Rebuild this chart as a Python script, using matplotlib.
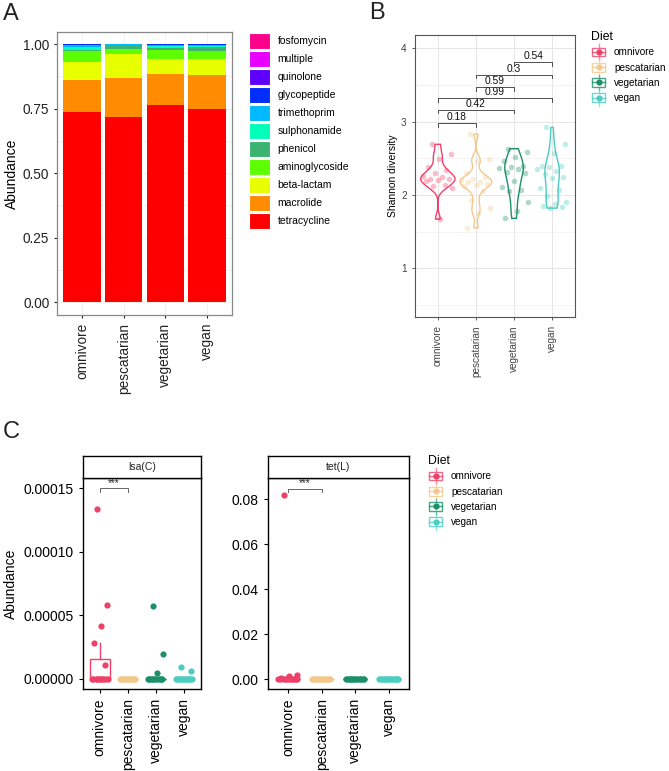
import numpy as np
import matplotlib
matplotlib.use('Agg')
import matplotlib.pyplot as plt
from matplotlib.patches import Patch, Rectangle
from matplotlib.lines import Line2D
from matplotlib.legend_handler import HandlerBase

plt.rcParams['font.family'] = ['Liberation Sans', 'DejaVu Sans']

W, H = 669, 771

diets = ['omnivore', 'pescatarian', 'vegetarian', 'vegan']
diet_colors = ['#EE4169', '#F3C98B', '#1A8F68', '#4BCDC2']

# --- panel A: relative abundance of antibiotic classes (bottom -> top)
classes = ['tetracycline', 'macrolide', 'beta-lactam', 'aminoglycoside', 'phenicol',
           'sulphonamide', 'trimethoprim', 'glycopeptide', 'quinolone', 'multiple', 'fosfomycin']
class_colors = ['#FF0000', '#FF8B00', '#E8FF00', '#5DFF00', '#3CB371',
                '#00FFB9', '#00B9FF', '#002EFF', '#5D00FF', '#E800FF', '#FF008B']
abund_omnivore = [0.736, 0.124, 0.072, 0.043, 0.002, 0.012, 0.007, 0.003, 0.001, 0.0, 0.0]
abund_pescatarian = [0.718, 0.151, 0.091, 0.023, 0.012, 0.003, 0.001, 0.001, 0.0, 0.0, 0.0]
abund_vegetarian = [0.764, 0.120, 0.060, 0.033, 0.008, 0.008, 0.004, 0.002, 0.001, 0.0, 0.0]
abund_vegan = [0.747, 0.135, 0.060, 0.031, 0.014, 0.004, 0.005, 0.003, 0.001, 0.0, 0.0]

# --- panel B: Shannon diversity per sample
shannon_omnivore = [2.69, 2.56, 2.49, 2.38, 2.34, 2.30, 2.26, 2.25, 2.22, 2.22, 2.20, 2.19, 2.14, 2.12, 2.09, 1.67]
shannon_pescatarian = [2.83, 2.49, 2.46, 2.30, 2.24, 2.22, 2.20, 2.18, 2.17, 2.15, 2.14, 2.12, 2.06,
                       1.93, 1.82, 1.75, 1.55]
shannon_vegetarian = [2.63, 2.58, 2.52, 2.46, 2.40, 2.38, 2.37, 2.35, 2.31, 2.30, 2.19, 2.11,
                      2.07, 2.06, 1.90, 1.78, 1.68]
shannon_vegan = [2.92, 2.69, 2.57, 2.40, 2.39, 2.38, 2.36, 2.33, 2.28, 2.25, 2.23, 2.09, 2.07,
                 1.99, 1.90, 1.87, 1.85, 1.83, 1.82]
b_pairs = [(0, 1), (0, 2), (0, 3), (1, 2), (1, 3), (2, 3)]
b_pvals = ['0.18', '0.42', '0.99', '0.59', '0.3', '0.54']
b_heights = [2.98, 3.16, 3.32, 3.47, 3.64, 3.81]

# --- panel C: gene abundance per sample
lsa_omnivore = [1.34e-4, 5.8e-5, 4.17e-5, 2.83e-5, 1.1e-5, 0, 0, 0, 0, 0, 0, 0, 0, 0, 0, 0]
lsa_pescatarian = [0, 0, 0, 0, 0, 0, 0, 0, 0, 0, 0, 0, 0]
lsa_vegetarian = [5.75e-5, 1.94e-5, 4.5e-6, 0, 0, 0, 0, 0, 0, 0, 0, 0, 0, 0]
lsa_vegan = [9.7e-6, 6.6e-6, 0, 0, 0, 0, 0, 0, 0, 0, 0, 0, 0, 0, 0]
tet_omnivore = [0.082, 0.0018, 0.0012, 0.0006, 0, 0, 0, 0, 0, 0, 0, 0, 0, 0, 0, 0]
tet_pescatarian = [0, 0, 0, 0, 0, 0, 0, 0, 0, 0, 0, 0, 0]
tet_vegetarian = [0, 0, 0, 0, 0, 0, 0, 0, 0, 0, 0, 0, 0, 0]
tet_vegan = [0, 0, 0, 0, 0, 0, 0, 0, 0, 0, 0, 0, 0, 0, 0]


def box(l, t, r, b):
    return [l / W, 1 - b / H, (r - l) / W, (b - t) / H]


def jitter(n, width):
    # deterministic spread instead of random jitter
    return ((np.arange(n) * 0.6180339887 + 0.31) % 1.0 - 0.5) * 2 * width


class BoxKey(HandlerBase):
    def create_artists(self, legend, orig, xd, yd, w, h, fs, trans):
        c = orig.get_color()
        x0, y0 = -xd, -yd
        cx, cy = x0 + w / 2, y0 + h / 2
        arts = [
            Line2D([cx, cx], [y0 - 0.15 * h, y0 + 1.15 * h], color=c, lw=1, alpha=0.6),
            Rectangle((x0 + 0.05 * w, y0 + 0.15 * h), 0.9 * w, 0.7 * h, fc='white', ec=c, lw=1, alpha=0.8),
            Line2D([x0 + 0.05 * w, x0 + 0.95 * w], [cy, cy], color=c, lw=1, alpha=0.8),
            Line2D([cx], [cy], marker='o', ms=3.5, color=c, lw=0),
        ]
        for a in arts:
            a.set_transform(trans)
        return arts


def diet_legend(fig, x, y):
    hs = [Line2D([], [], color=c) for c in diet_colors]
    lg = fig.legend(hs, diets, title='Diet', loc='upper left', bbox_to_anchor=(x / W, 1 - y / H),
                    frameon=False, fontsize=7.2, title_fontsize=8.8, handlelength=1.5, handleheight=1.5,
                    labelspacing=0.3, handletextpad=0.8, borderpad=0, borderaxespad=0,
                    alignment='left', handler_map={Line2D: BoxKey()})
    return lg


fig = plt.figure(figsize=(W / 100, H / 100), dpi=100)

# ---------------- A
axA = fig.add_axes(box(57, 32, 232, 315))
stack = np.array([abund_omnivore, abund_pescatarian, abund_vegetarian, abund_vegan]).T
x = np.arange(len(diets))
bottom = np.zeros(len(diets))
for name, col, vals in zip(classes, class_colors, stack):
    axA.bar(x, vals, 0.9, bottom=bottom, color=col, zorder=2)
    bottom += vals
axA.set_xlim(-0.6, 3.6)
axA.set_ylim(-0.05, 1.047)
axA.set_yticks([0, 0.25, 0.5, 0.75, 1.0])
axA.set_yticklabels(['%.2f' % v for v in [0, 0.25, 0.5, 0.75, 1.0]])
axA.set_yticks([0.125, 0.375, 0.625, 0.875], minor=True)
axA.grid(which='both', color='#EFEFEF', lw=0.6)
axA.set_axisbelow(True)
axA.set_xticks(x)
axA.set_xticklabels(diets, rotation=90)
axA.tick_params(labelsize=9.8, colors='#222222', length=2, which='major')
axA.tick_params(which='minor', length=0)
axA.set_ylabel('Abundance', fontsize=10, labelpad=3)
for s in axA.spines.values():
    s.set_color('#888888')
    s.set_linewidth(0.9)

hA = [Patch(fc=c, ec='white', lw=0.8) for c in class_colors[::-1]]
fig.legend(hA, classes[::-1], loc='upper left', bbox_to_anchor=(249 / W, 1 - 33 / H),
           frameon=False, fontsize=7.5, handlelength=2.0, handleheight=2.0, labelspacing=0.18,
           handletextpad=0.75, borderpad=0, borderaxespad=0)

# ---------------- B
axB = fig.add_axes(box(415, 35, 575, 317))
groups = [shannon_omnivore, shannon_pescatarian, shannon_vegetarian, shannon_vegan]
curves = []
for v in groups:
    v = np.asarray(v)
    n = len(v)
    iqr = np.subtract(*np.percentile(v, [75, 25]))
    bw = 0.9 * min(v.std(ddof=1), iqr / 1.34) * n ** -0.2
    ys = np.linspace(v.min(), v.max(), 256)
    dens = np.exp(-0.5 * ((ys[:, None] - v[None, :]) / bw) ** 2).sum(1) / (n * bw * np.sqrt(2 * np.pi))
    curves.append((ys, dens))
dmax = max(d.max() for _, d in curves)
for i, ((ys, dens), v, c) in enumerate(zip(curves, groups, diet_colors)):
    hw = 0.45 * dens / dmax
    xs = np.concatenate([i - hw, (i + hw)[::-1]])
    yy = np.concatenate([ys, ys[::-1]])
    axB.fill(xs, yy, fc='none', ec=c, lw=1.0, zorder=3)
    axB.scatter(i + jitter(len(v), 0.4), v, s=16, color=c, alpha=0.35, lw=0, zorder=4)
tip = 0.05
for (a, b), p, h in zip(b_pairs, b_pvals, b_heights):
    axB.plot([a, a, b, b], [h - tip, h, h, h - tip], color='#333333', lw=0.6, zorder=5)
    axB.text((a + b) / 2, h + 0.015, p, ha='center', va='bottom', fontsize=7.4, color='#111111')
axB.set_xlim(-0.6, 3.6)
axB.set_ylim(0.336, 4.18)
axB.set_yticks([1, 2, 3, 4])
axB.set_yticks([0.5, 1.5, 2.5, 3.5], minor=True)
axB.set_xticks(x)
axB.set_xticklabels(diets, rotation=90)
axB.grid(which='major', color='#E6E6E6', lw=0.7)
axB.grid(which='minor', axis='y', color='#F0F0F0', lw=0.5)
axB.set_axisbelow(True)
axB.tick_params(labelsize=7.2, colors='#444444', length=2.5, width=0.6)
axB.tick_params(which='minor', length=0)
axB.set_ylabel('Shannon diversity', fontsize=7.5, labelpad=2)
for s in axB.spines.values():
    s.set_color('#555555')
    s.set_linewidth(0.8)
diet_legend(fig, 591, 31)

# ---------------- C
facets = [
    ('lsa(C)', [lsa_omnivore, lsa_pescatarian, lsa_vegetarian, lsa_vegan], (83, 201),
     (-7.9e-6, 1.58e-4), [0, 5e-5, 1e-4, 1.5e-4], '%.5f', 1.50e-4, 2.7e-6),
    ('tet(L)', [tet_omnivore, tet_pescatarian, tet_vegetarian, tet_vegan], (268, 409),
     (-0.0044, 0.0895), [0, 0.02, 0.04, 0.06, 0.08], '%.2f', 0.0848, 0.0015),
]
for k, (title, data, (l, r), ylim, yt, fmt, bh, btip) in enumerate(facets):
    ax = fig.add_axes(box(l, 478, r, 689))
    bp = ax.boxplot(data, positions=x, widths=0.72, showfliers=False, showcaps=False,
                    patch_artist=True, whis=1.5, manage_ticks=False)
    for i, c in enumerate(diet_colors):
        bp['boxes'][i].set(facecolor='white', edgecolor=c, lw=1.0, zorder=2)
        bp['medians'][i].set(color=c, lw=1.0, zorder=2)
        for wk in bp['whiskers'][2 * i:2 * i + 2]:
            wk.set(color=c, lw=1.0, zorder=2)
    for i, (v, c) in enumerate(zip(data, diet_colors)):
        ax.scatter(i + jitter(len(v), 0.3), v, s=20, color=c, lw=0, zorder=3)
    ax.plot([0, 0, 1, 1], [bh - btip, bh, bh, bh - btip], color='#666666', lw=0.7, zorder=4)
    ax.text(0.5, bh + btip * 0.1, '***', ha='center', va='bottom', fontsize=7, color='#222222')
    ax.set_xlim(-0.6, 3.6)
    ax.set_ylim(*ylim)
    ax.set_yticks(yt)
    ax.set_yticklabels([fmt % v for v in yt])
    ax.set_xticks(x)
    ax.set_xticklabels(diets, rotation=90)
    ax.tick_params(labelsize=10, colors='black', length=3, width=0.8)
    for s in ax.spines.values():
        s.set_color('black')
        s.set_linewidth(1.0)
    if k == 0:
        ax.set_ylabel('Abundance', fontsize=10, labelpad=4)
    st = fig.add_axes(box(l, 456, r, 478))
    st.set_xticks([])
    st.set_yticks([])
    for s in st.spines.values():
        s.set_color('black')
        s.set_linewidth(1.0)
    st.text(0.5, 0.5, title, ha='center', va='center', fontsize=7.5, color='#222222',
            transform=st.transAxes)
diet_legend(fig, 428, 455)

# panel tags
fig.text(3 / W, 1 - 3 / H, 'A', fontsize=17, va='top', ha='left', color='#222222')
fig.text(369 / W, 1 - 2 / H, 'B', fontsize=17, va='top', ha='left', color='#222222')
fig.text(3 / W, 1 - 421 / H, 'C', fontsize=17, va='top', ha='left', color='#222222')

fig.savefig('out.png', dpi=100)
